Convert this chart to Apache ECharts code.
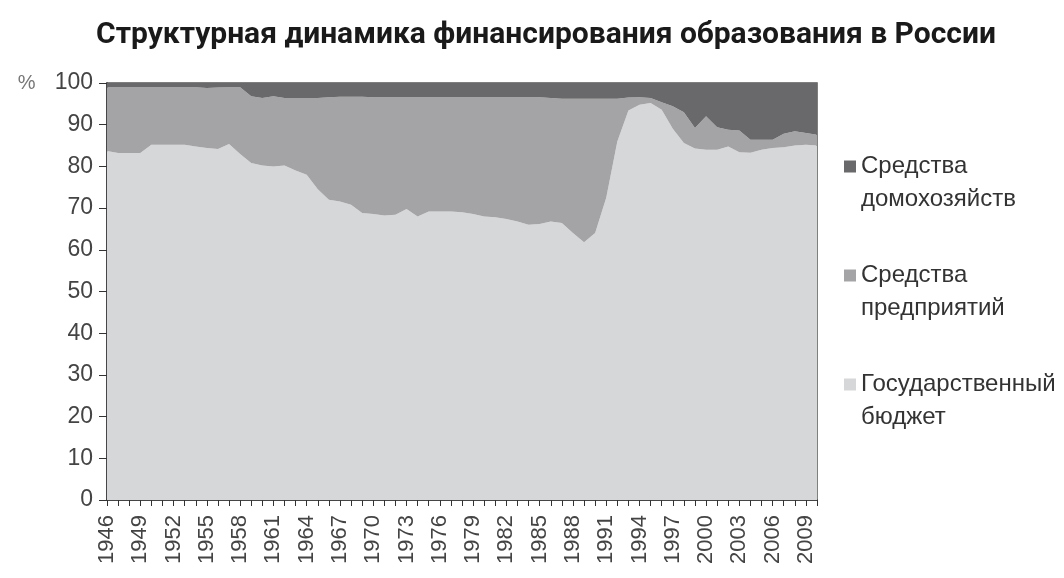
<!DOCTYPE html>
<html><head><meta charset="utf-8">
<script src="https://cdn.jsdelivr.net/npm/echarts@6/dist/echarts.min.js"></script>
<style>html,body{margin:0;padding:0;background:#fff}#c{width:1064px;height:578px}</style>
</head><body><div id="c"></div>
<script>
const years = [];
for (let y = 1946; y <= 2010; y++) years.push(String(y));

// Государственный бюджет, %
const budget = [83.7,83.2,83.2,83.2,85.2,85.2,85.2,85.2,84.8,84.4,
  84.2,85.4,83.0,80.8,80.2,80.0,80.2,79.0,78.0,74.5,
  72.0,71.6,70.8,68.8,68.6,68.2,68.4,69.8,68.0,69.2,
  69.2,69.2,69.0,68.6,68.0,67.8,67.4,66.8,66.0,66.2,
  66.8,66.4,64.0,61.8,64.0,72.5,86.0,93.4,94.8,95.2,
  93.6,89.0,85.6,84.3,84.0,84.0,84.8,83.4,83.3,84.0,
  84.4,84.6,85.0,85.2,85.0];
// Верхняя граница "бюджет + предприятия", %
const upper = [99.0,99.0,99.0,99.0,99.0,99.0,99.0,99.0,99.0,98.8,
  98.9,99.0,99.0,96.8,96.4,96.8,96.4,96.4,96.4,96.4,
  96.6,96.7,96.7,96.7,96.6,96.6,96.6,96.6,96.6,96.6,
  96.6,96.6,96.6,96.6,96.6,96.6,96.6,96.6,96.6,96.6,
  96.4,96.2,96.2,96.2,96.2,96.2,96.2,96.5,96.6,96.4,
  95.4,94.4,93.0,89.2,92.0,89.4,88.8,88.6,86.4,86.4,
  86.4,87.8,88.4,88.0,87.6];
const enterprises = upper.map((u, i) => +(u - budget[i]).toFixed(1));
const households = upper.map(u => +(100 - u).toFixed(1));

const names = ['Средства\nдомохозяйств', 'Средства\nпредприятий', 'Государственный\nбюджет'];
const colors = ['#69696b', '#a4a4a7', '#d6d7d9'];

const chart = echarts.init(document.getElementById('c'));
const mk = (name, data, color) => ({
  name, type: 'line', stack: 'all', data, symbol: 'none', smooth: false,
  lineStyle: {width: 0}, areaStyle: {color, opacity: 1}, itemStyle: {color}
});
chart.setOption({
  animation: false,
  title: {text: 'Структурная динамика финансирования образования в России', left: 541, top: 15,
    textAlign: 'center',
    textStyle: {fontFamily: 'Roboto', fontWeight: 'bold', fontSize: 30, color: '#1a1a1a'}},
  legend: {
    data: [names[0], names[1], names[2]], orient: 'vertical', left: 839, top: 112,
    itemWidth: 12, itemHeight: 12, itemGap: 10, icon: 'rect',
    formatter: n => '\n' + n,
    textStyle: {fontFamily: 'Liberation Sans', fontSize: 24, color: '#333', lineHeight: 33}
  },
  grid: {left: 107, right: 247, top: 83, bottom: 78, show: true, borderColor: '#555', borderWidth: 1.5, backgroundColor: 'transparent'},
  xAxis: {
    type: 'category', data: years, boundaryGap: false,
    axisLine: {lineStyle: {color: '#333', width: 1.5}},
    axisTick: {interval: 0, length: 6, lineStyle: {color: '#333'}},
    axisLabel: {interval: 2, rotate: 90, fontFamily: 'Liberation Sans', fontSize: 22, color: '#444', margin: 15}
  },
  yAxis: {
    type: 'value', min: 0, max: 100, interval: 10,
    splitLine: {show: false},
    axisLine: {show: true, lineStyle: {color: '#333', width: 1.5}},
    axisTick: {show: true, length: 8, lineStyle: {color: '#333'}},
    axisLabel: {fontFamily: 'Liberation Sans', fontSize: 23, color: '#444', margin: 14,
      formatter: v => v === 100 ? '{p|%}   ' + v : String(v),
      rich: {p: {fontFamily: 'Liberation Sans', fontSize: 20, color: '#777'}}}
  },
  series: [
    mk(names[2], budget, colors[2]),
    mk(names[1], enterprises, colors[1]),
    mk(names[0], households, colors[0])
  ]
});
</script></body></html>
